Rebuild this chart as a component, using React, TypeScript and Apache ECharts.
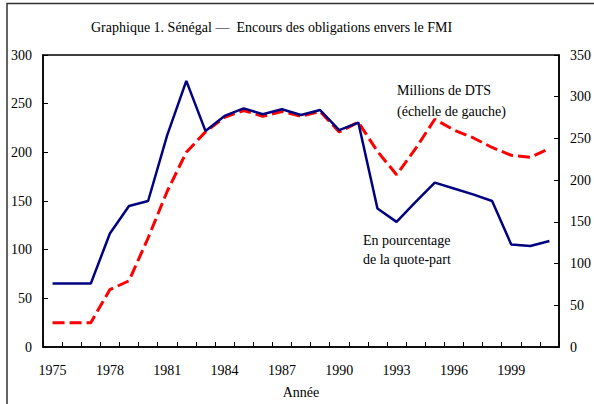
import React, { useEffect, useRef } from "react";
import * as echarts from "echarts";

const years: string[] = [
  "1975", "1976", "1977", "1978", "1979", "1980", "1981", "1982", "1983",
  "1984", "1985", "1986", "1987", "1988", "1989", "1990", "1991", "1992",
  "1993", "1994", "1995", "1996", "1997", "1998", "1999", "2000", "2001",
];

// Millions de DTS (left axis)
const millionsDTS: number[] = [
  25, 25, 25, 59, 68, 112, 160, 200, 221, 236, 243, 237, 242, 237, 242, 221,
  231, 201, 177, 204, 234, 223, 215, 205, 197, 195, 204,
];

// En pourcentage de la quote-part (right axis)
const pctQuota: number[] = [
  76, 76, 76, 136, 169, 175, 254, 319, 259, 277, 286, 279, 285, 278, 284, 260,
  269, 166, 150, 174, 197, 190, 183, 175, 123, 121, 127,
];

const titleText = "Graphique 1. Sénégal —  Encours des obligations envers le FMI";
const xAxisName = "Année";
const dtsLabel = ["Millions de DTS", "(échelle de gauche)"];
const pctLabel = ["En pourcentage", "de la quote-part"];

const FONT = "Liberation Serif";

export default function App() {
  const ref = useRef<HTMLDivElement>(null);

  useEffect(() => {
    document.body.style.margin = "0";
    if (!ref.current) return;
    const chart = echarts.init(ref.current, undefined, { renderer: "svg" });
    const textStyle = { fontFamily: FONT, fontSize: 14, color: "#000" };
    chart.setOption({
      animation: false,
      backgroundColor: "#fff",
      textStyle: { fontFamily: FONT },
      title: {
        text: titleText,
        left: 86,
        top: 15,
        textStyle: { fontFamily: FONT, fontSize: 14, fontWeight: "normal", color: "#000" },
      },
      grid: {
        left: 43,
        right: 31,
        top: 55,
        bottom: 57,
        show: true,
        borderColor: "#000",
        borderWidth: 1.5,
        backgroundColor: "transparent",
      },
      xAxis: {
        type: "category",
        data: years,
        boundaryGap: true,
        name: xAxisName,
        nameLocation: "middle",
        nameGap: 38,
        nameTextStyle: textStyle,
        axisLine: { lineStyle: { color: "#000", width: 1.5 } },
        axisTick: { show: true, inside: true, interval: 0, length: 5, lineStyle: { color: "#000", width: 1 } },
        axisLabel: { interval: 2, margin: 16, ...textStyle },
        splitLine: { show: false },
      },
      yAxis: [
        {
          type: "value",
          min: 0,
          max: 300,
          interval: 50,
          position: "left",
          axisLine: { show: true, lineStyle: { color: "#000", width: 1.5 } },
          axisTick: { show: true, inside: true, length: 5, lineStyle: { color: "#000" } },
          axisLabel: { margin: 11, ...textStyle },
          splitLine: { show: false },
        },
        {
          type: "value",
          min: 0,
          max: 350,
          interval: 50,
          position: "right",
          axisLine: { show: true, lineStyle: { color: "#000", width: 1.5 } },
          axisTick: { show: true, inside: true, length: 5, lineStyle: { color: "#000" } },
          axisLabel: { margin: 11, ...textStyle },
          splitLine: { show: false },
        },
      ],
      series: [
        {
          name: "Millions de DTS",
          type: "line",
          yAxisIndex: 0,
          data: millionsDTS,
          symbol: "none",
          lineStyle: { color: "#ff0000", width: 3, type: [12, 5] },
          z: 2,
        },
        {
          name: "En pourcentage de la quote-part",
          type: "line",
          yAxisIndex: 1,
          data: pctQuota,
          symbol: "none",
          lineStyle: { color: "#000080", width: 2.5 },
          z: 3,
        },
      ],
      graphic: [
        {
          type: "rect",
          shape: { x: 7, y: 3.5, width: 700, height: 500 },
          style: { fill: "none", stroke: "#333", lineWidth: 1.5 },
          silent: true,
        },
        {
          type: "text",
          x: 397,
          y: 80,
          style: { text: dtsLabel.join("\n"), fontFamily: FONT, fontSize: 14, fill: "#000", lineHeight: 21 },
        },
        {
          type: "text",
          x: 363,
          y: 231,
          style: { text: pctLabel.join("\n"), fontFamily: FONT, fontSize: 14, fill: "#000", lineHeight: 19 },
        },
      ],
    });
    return () => chart.dispose();
  }, []);

  return <div ref={ref} style={{ width: 594, height: 404 }} />;
}
